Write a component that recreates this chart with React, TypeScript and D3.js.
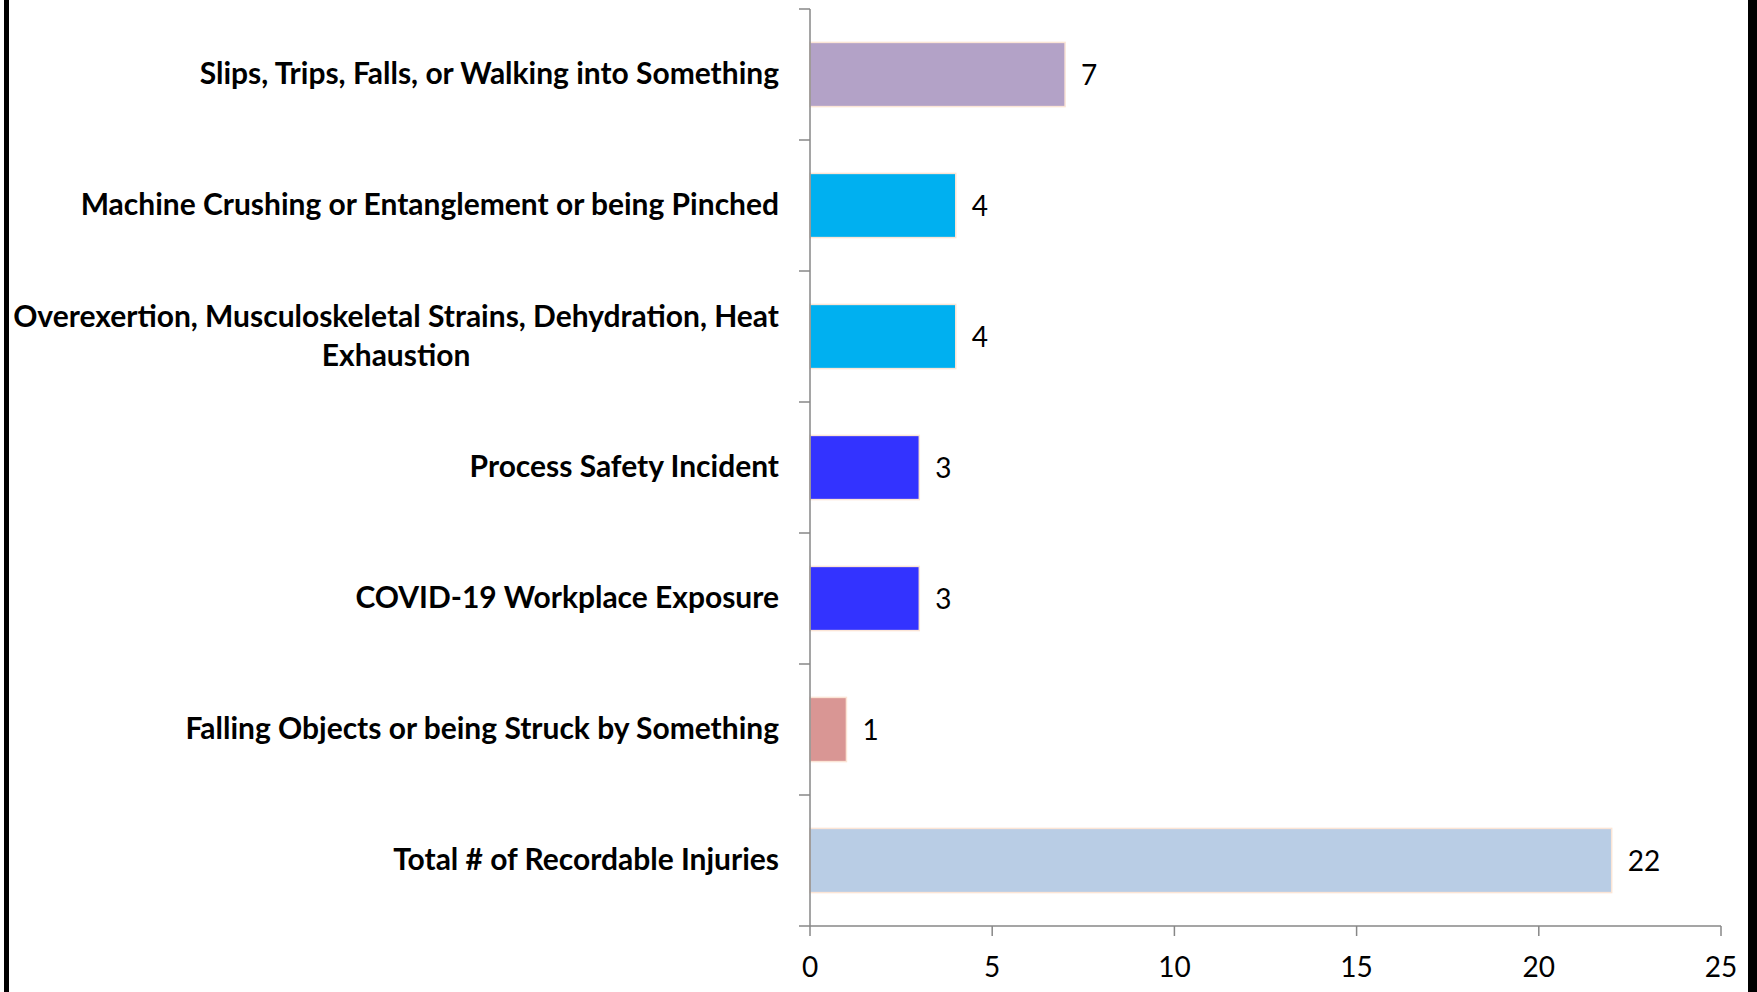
import React, { useEffect, useRef } from 'react';
import * as d3 from 'd3';

// categories top to bottom, label lines split where the chart wraps them
const categories = [
  'Slips, Trips, Falls, or Walking into Something',
  'Machine Crushing or Entanglement or being Pinched',
  'Overexertion, Musculoskeletal Strains, Dehydration, Heat|Exhaustion',
  'Process Safety Incident',
  'COVID-19 Workplace Exposure',
  'Falling Objects or being Struck by Something',
  'Total # of Recordable Injuries',
];
const counts = [7, 4, 4, 3, 3, 1, 22];
const barColors = ['#b3a2c7', '#00b0f0', '#00b0f0', '#3333ff', '#3333ff', '#d99694', '#b9cde5'];
const xTicks = [0, 5, 10, 15, 20, 25];

const W = 1757;
const H = 992;
const FONT = 'Lato, "Open Sans", sans-serif';

const App = () => {
  const svgRef = useRef<SVGSVGElement>(null);

  useEffect(() => {
    const svg = d3.select(svgRef.current);
    svg.selectAll('*').remove();

    const left = 810;
    const right = 1721;
    const top = 9;
    const bottom = 926;
    const axisColor = '#878787';

    const x = d3.scaleLinear().domain([0, 25]).range([left, right]);
    const y = d3.scaleBand().domain(categories).range([top, bottom]).paddingInner(0.51).paddingOuter(0.255);
    const step = y.step();

    // frame edges
    svg.append('rect').attr('x', 4).attr('y', 0).attr('width', 5).attr('height', H).attr('fill', '#000');
    svg.append('rect').attr('x', 1748).attr('y', 0).attr('width', 9).attr('height', H).attr('fill', '#000');

    // bars
    svg.selectAll('rect.bar')
      .data(categories)
      .enter()
      .append('rect')
      .attr('class', 'bar')
      .attr('x', x(0))
      .attr('y', (d) => y(d)!)
      .attr('width', (d, i) => x(counts[i]) - x(0))
      .attr('height', y.bandwidth())
      .attr('fill', (d, i) => barColors[i])
      .attr('stroke', '#fbe5d6')
      .attr('stroke-width', 1.5);

    // axes
    const g = svg.append('g').attr('stroke', axisColor).attr('stroke-width', 1.5);
    g.append('line').attr('x1', left).attr('x2', left).attr('y1', top).attr('y2', bottom);
    g.append('line').attr('x1', left).attr('x2', right).attr('y1', bottom).attr('y2', bottom);
    d3.range(categories.length + 1).forEach((i) => {
      const yy = top + i * step;
      g.append('line').attr('x1', left - 11).attr('x2', left).attr('y1', yy).attr('y2', yy);
    });
    xTicks.forEach((t) => {
      g.append('line').attr('x1', x(t)).attr('x2', x(t)).attr('y1', bottom).attr('y2', bottom + 10);
    });

    svg.selectAll('text.tick')
      .data(xTicks)
      .enter()
      .append('text')
      .attr('class', 'tick')
      .attr('x', (d) => x(d))
      .attr('y', 977)
      .attr('text-anchor', 'middle')
      .attr('font-family', FONT)
      .attr('font-size', 28)
      .attr('fill', '#000')
      .text((d) => d);

    // value labels
    svg.selectAll('text.val')
      .data(categories)
      .enter()
      .append('text')
      .attr('class', 'val')
      .attr('x', (d, i) => x(counts[i]) + 16)
      .attr('y', (d) => y(d)! + y.bandwidth() / 2 + 10)
      .attr('font-family', FONT)
      .attr('font-size', 28)
      .attr('fill', '#000')
      .text((d, i) => counts[i]);

    // category labels: fit the widest line to the reference width
    const probe = svg.append('text')
      .attr('font-family', FONT)
      .attr('font-weight', 'bold')
      .attr('font-size', 28)
      .text('Overexertion, Musculoskeletal Strains, Dehydration, Heat');
    const measured = (probe.node() as SVGTextElement).getComputedTextLength();
    probe.remove();
    const labelSize = Math.min(30, (28 * 766) / measured);

    const labelRight = 779;
    const lineH = 39;
    categories.forEach((c) => {
      const lines = c.split('|');
      const cy = y(c)! + y.bandwidth() / 2;
      const t = svg.append('text')
        .attr('font-family', FONT)
        .attr('font-weight', 'bold')
        .attr('font-size', labelSize)
        .attr('fill', '#000');
      if (lines.length === 1) {
        t.attr('x', labelRight).attr('y', cy + 9.5).attr('text-anchor', 'end').text(c);
      } else {
        const first = cy + 9.5 - ((lines.length - 1) * lineH) / 2;
        const tmp = svg.append('text').attr('font-family', FONT).attr('font-weight', 'bold')
          .attr('font-size', labelSize).text(lines[0]);
        const w = (tmp.node() as SVGTextElement).getComputedTextLength();
        tmp.remove();
        const mid = labelRight - w / 2;
        t.attr('text-anchor', 'middle');
        lines.forEach((ln, k) => {
          t.append('tspan').attr('x', mid).attr('y', first + k * lineH).text(ln);
        });
      }
    });
  }, []);

  return (
    <svg
      ref={svgRef}
      width={W}
      height={H}
      style={{ position: 'absolute', left: 0, top: 0, background: '#fff' }}
    />
  );
};

export default App;
